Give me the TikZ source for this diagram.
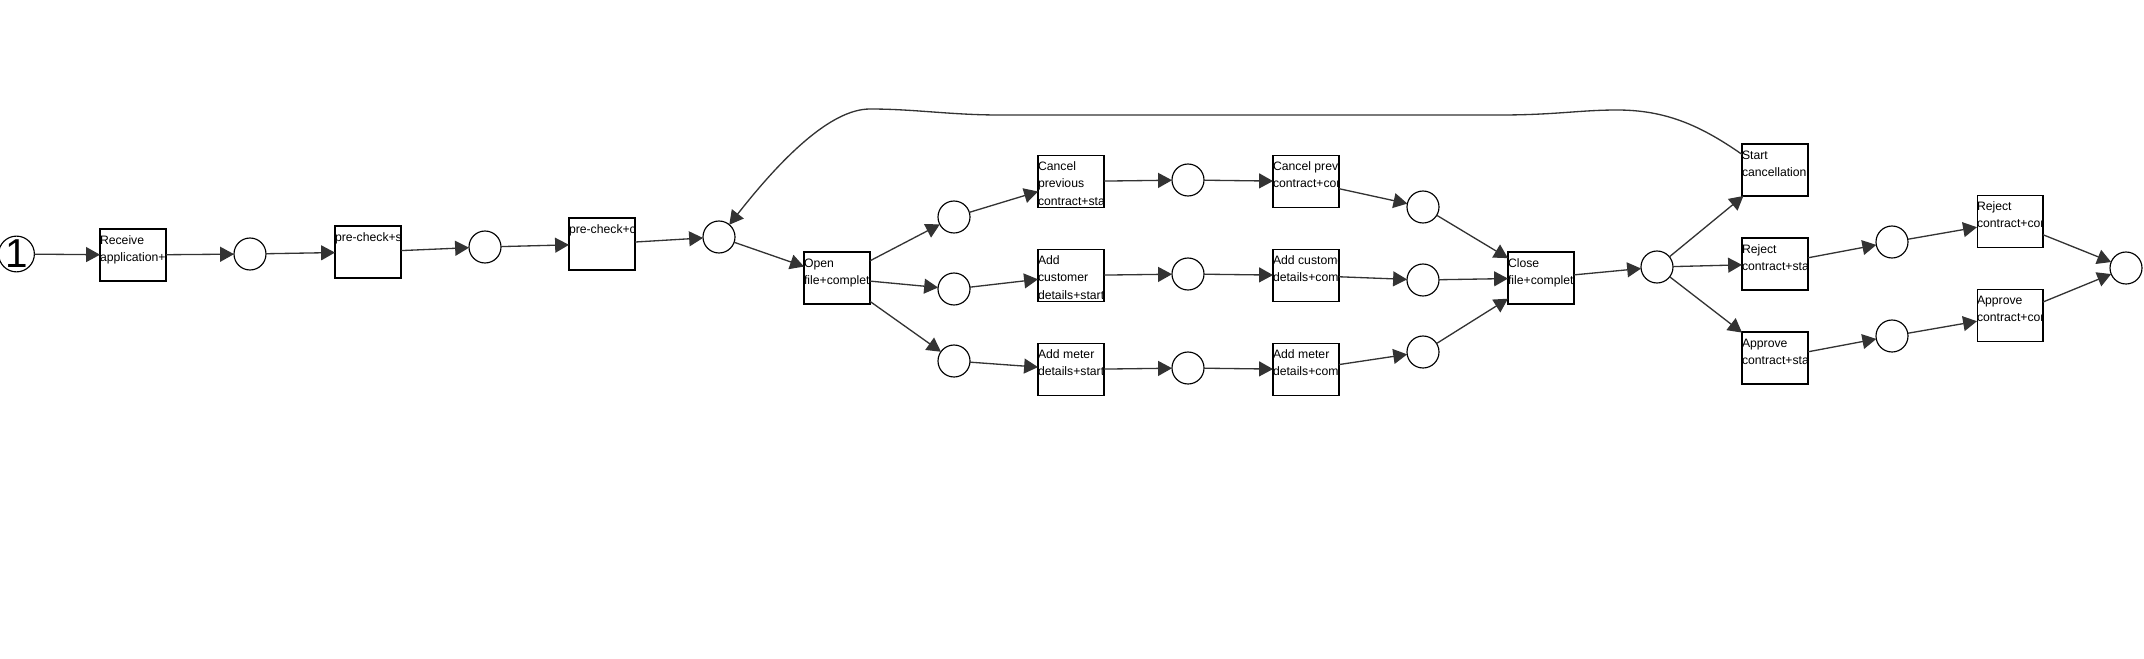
\documentclass[tikz,border=0pt]{standalone}
\usepackage{fontspec}
\setmainfont{Liberation Sans}
\usetikzlibrary{arrows.meta,calc}
\definecolor{edgec}{HTML}{333333}
\tikzset{
  tr/.style={draw=black, line width=0.6pt, fill=white,
    minimum width=1.32cm, minimum height=1.04cm, inner sep=0pt, outer sep=0pt},
  trtext/.style={anchor=north west, inner sep=0pt, outer sep=0pt, align=left,
    font=\fontsize{6.95pt}{9.9pt}\selectfont},
  pl/.style={draw=black, circle, line width=0.65pt, minimum size=0.64cm,
    inner sep=0pt, outer sep=0pt, fill=white},
  conn/.style={draw=edgec, line width=0.75pt,
    -{Triangle[length=7.9pt,width=8.5pt]}}
}
\newcommand\trn[3]{%
  \node[tr] (#1) at (#2) {};
  \begin{scope}
    \clip (#1.south west) rectangle (#1.north east);
    \node[trtext] (#1-txt) at (#1.north west) {\rule{0pt}{0.3cm}#3};
  \end{scope}}
\begin{document}
\begin{tikzpicture}[x=0.02cm,y=-0.02cm]
\useasboundingbox (0,0) rectangle (2144,659);
% places
\node[pl, font=\fontsize{23pt}{23pt}\selectfont] (s0) at (16.5,254) {1};
\node[pl] (c1) at (250,254) {};
\node[pl] (c2) at (485,247) {};
\node[pl] (c3) at (719,237) {};
\node[pl] (c4a) at (954,217) {};
\node[pl] (c4b) at (954,289) {};
\node[pl] (c4c) at (954,361) {};
\node[pl] (c5a) at (1188,180) {};
\node[pl] (c5b) at (1188,274) {};
\node[pl] (c5c) at (1188,368) {};
\node[pl] (c6a) at (1423,207) {};
\node[pl] (c6b) at (1423,280) {};
\node[pl] (c6c) at (1423,352) {};
\node[pl] (c7) at (1657,267) {};
\node[pl] (c8a) at (1892,242) {};
\node[pl] (c8b) at (1892,336) {};
\node[pl] (cend) at (2126,268) {};
% transitions
\trn{t1}{133,255}{Receive\\application+complete}
\trn{t2}{368,252}{pre-check+start}
\trn{t3}{602,244}{pre-check+complete}
\trn{t4}{837,278}{Open\\file+complete}
\trn{t5a}{1071,181.5}{Cancel\\previous\\contract+start}
\trn{t5b}{1071,275.5}{Add\\customer\\details+start}
\trn{t5c}{1071,369.5}{Add meter\\details+start}
\trn{t6a}{1306,181.5}{Cancel previous\\contract+complete}
\trn{t6b}{1306,275.5}{Add customer\\details+complete}
\trn{t6c}{1306,369.5}{Add meter\\details+complete}
\trn{t7}{1541,278}{Close\\file+complete}
\trn{t8a}{1775,170}{Start\\cancellation}
\trn{t8b}{1775,264}{Reject\\contract+start}
\trn{t8c}{1775,358}{Approve\\contract+start}
\trn{t9a}{2010,221.5}{Reject\\contract+complete}
\trn{t9b}{2010,315.5}{Approve\\contract+complete}
% connectors
\draw[conn] (s0) -- (t1);
\draw[conn] (t1) -- (c1);
\draw[conn] (c1) -- (t2);
\draw[conn] (t2) -- (c2);
\draw[conn] (c2) -- (t3);
\draw[conn] (t3) -- (c3);
\draw[conn] (c3) -- (t4);
\draw[conn] (t4) -- (c4a);
\draw[conn] (t4) -- (c4b);
\draw[conn] (t4) -- (c4c);
\draw[conn] (c4a) -- (t5a);
\draw[conn] (c4b) -- (t5b);
\draw[conn] (c4c) -- (t5c);
\draw[conn] (t5a) -- (c5a);
\draw[conn] (t5b) -- (c5b);
\draw[conn] (t5c) -- (c5c);
\draw[conn] (c5a) -- (t6a);
\draw[conn] (c5b) -- (t6b);
\draw[conn] (c5c) -- (t6c);
\draw[conn] (t6a) -- (c6a);
\draw[conn] (t6b) -- (c6b);
\draw[conn] (t6c) -- (c6c);
\draw[conn] (c6a) -- (t7);
\draw[conn] (c6b) -- (t7);
\draw[conn] (c6c) -- (t7);
\draw[conn] (t7) -- (c7);
\draw[conn] (c7) -- (t8a);
\draw[conn] (c7) -- (t8b);
\draw[conn] (c7) -- (t8c);
\draw[conn] (t8b) -- (c8a);
\draw[conn] (t8c) -- (c8b);
\draw[conn] (c8a) -- (t9a);
\draw[conn] (c8b) -- (t9b);
\draw[conn] (t9a) -- (cend);
\draw[conn] (t9b) -- (cend);
\draw[conn] ($(t8a.north west)!0.2!(t8a.south west)$)
  .. controls (1700,125) and (1665,110) .. (1617,110)
  .. controls (1580,110) and (1555,115) .. (1500,115)
  -- (1000,115)
  .. controls (950,115) and (915,109) .. (870,109)
  .. controls (830,109) and (780,160) .. (c3.50);
\end{tikzpicture}
\end{document}
